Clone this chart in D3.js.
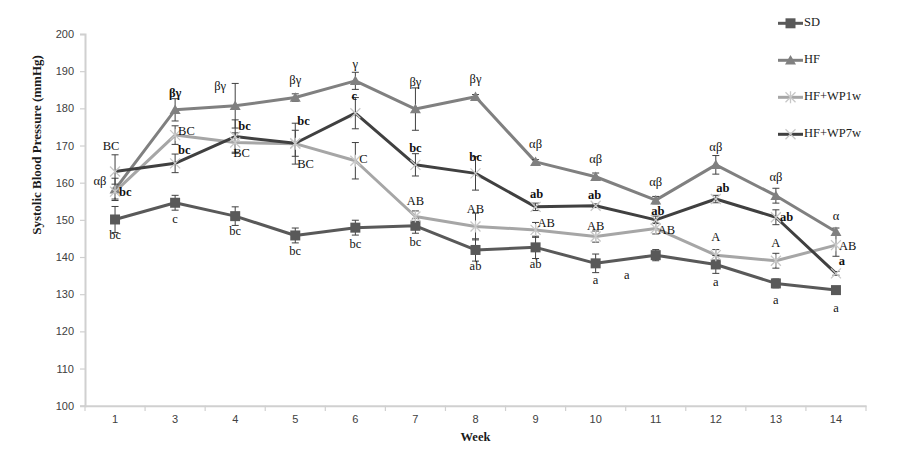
<!DOCTYPE html>
<html><head><meta charset="utf-8">
<script src="https://cdn.jsdelivr.net/npm/d3@7"></script>
<style>body{margin:0;background:#fff}svg{display:block}</style>
</head><body>
<svg id="c" width="914" height="465"></svg>
<script>
const weeks = ["1","3","4","5","6","7","8","9","10","11","12","13","14"];
const yTicks = [100,110,120,130,140,150,160,170,180,190,200];

const sdVals   = [150.1,154.6,151.0,145.8,147.9,148.4,141.9,142.6,138.3,140.5,138.0,132.9,131.1];
const sdErr    = [3.5,2.0,2.5,2.0,2.0,2.0,3.0,3.0,2.5,1.5,2.4,1.2,0.5];
const hfVals   = [158.2,179.6,180.7,182.9,187.4,179.8,183.1,165.6,161.6,155.3,164.8,156.5,146.8];
const hfErr    = [3.0,3.0,6.0,1.0,2.3,5.7,0.6,0.6,1.0,1.0,2.5,2.0,1.0];
const wp1Vals  = [157.6,172.8,170.8,170.5,165.9,150.9,148.2,147.3,145.5,147.7,140.5,139.0,143.2];
const wp1Err   = [2.0,2.5,2.6,5.5,4.9,1.5,3.6,2.0,1.5,1.5,1.5,2.0,3.0];
const wp7Vals  = [163.0,165.2,172.4,170.6,178.7,164.8,162.5,153.5,153.8,150.0,155.6,150.7,135.6];
const wp7Err   = [4.5,2.5,4.5,3.5,4.2,3.0,4.5,1.0,0.5,1.0,1.0,2.0,0.5];

const sdLabels  = ["bc","c","bc","bc","bc","bc","ab","ab","a","a","a","a","a"];
const hfLabels  = ["αβ","βγ","βγ","βγ","γ","βγ","βγ","αβ","αβ","αβ","αβ","αβ","α"];
const wp1Labels = ["BC","BC","BC","BC","C","AB","AB","AB","AB","AB","A","A","AB"];
const wp7Labels = ["bc","bc","bc","bc","c","bc","bc","ab","ab","ab","ab","ab","a"];

// annotation placement [anchor, dx, dy] relative to the point
const sdLabelAt  = [["m",0,17],["m",0,17],["m",0,16],["m",0,17],["m",0,17],["m",0,17],["m",0,17],["m",0,18],["m",0,18],["m",-29,21],["m",0,19],["m",0,18],["m",0,19]];
const hfLabelAt  = [["m",-15,-7],["m",0,-16],["m",-15,-19],["m",0,-16],["m",0,-16],["m",0,-26],["m",0,-17],["m",0,-17],["m",0,-17],["m",0,-17],["m",0,-17],["m",0,-18],["m",0,-15]];
const wp1LabelAt = [["m",-4,-44],["s",3,-3],["s",-2,12],["s",2,21],["s",4,-1],["m",0,-14],["m",0,-16],["s",2,-6],["m",0,-9],["s",2,3],["m",0,-17],["m",0,-17],["s",3,2]];
const wp7LabelAt = [["s",4,22],["s",3,-12],["s",3,-9],["s",2,-21],["m",-1,-16],["m",0,-16],["m",0,-15],["m",1,-12],["m",-1,-10],["m",2,-8],["m",7,-10],["s",4,1],["m",6,-11]];
const hfBold  = [false,true,false,false,false,false,false,false,false,false,false,false,false];

const seriesNames = ["SD","HF","HF+WP1w","HF+WP7w"];

const series = [
  {name:seriesNames[0], vals:sdVals,  err:sdErr,  labels:sdLabels,  at:sdLabelAt,  color:"#595959", marker:"square", bold:()=>false},
  {name:seriesNames[1], vals:hfVals,  err:hfErr,  labels:hfLabels,  at:hfLabelAt,  color:"#808080", marker:"triangle", bold:i=>hfBold[i]},
  {name:seriesNames[2], vals:wp1Vals, err:wp1Err, labels:wp1Labels, at:wp1LabelAt, color:"#a6a6a6", marker:"asterisk", bold:()=>false},
  {name:seriesNames[3], vals:wp7Vals, err:wp7Err, labels:wp7Labels, at:wp7LabelAt, color:"#404040", marker:"times", bold:()=>true}
];

const svg = d3.select("#c");
const x = d3.scaleBand().domain(weeks).range([85,866]).padding(0);
const y = d3.scaleLinear().domain([100,200]).range([405.7,34]);
const cx = w => x(w) + x.bandwidth()/2;

// axes
const axisColor = "#d0d0d0";
const gy = svg.append("g").attr("transform","translate(85,0)")
  .call(d3.axisLeft(y).tickValues(yTicks).tickSize(5).tickPadding(6));
gy.select(".domain").attr("stroke",axisColor).attr("stroke-width",2);
gy.selectAll(".tick line").attr("stroke",axisColor).attr("stroke-width",1.2);
gy.selectAll(".tick text").attr("font-family","Liberation Sans, Arial, sans-serif").attr("font-size",11).attr("fill","#404040");

const gx = svg.append("g").attr("transform","translate(0,405.7)")
  .call(d3.axisBottom(x).tickSize(0).tickPadding(10));
gx.select(".domain").attr("stroke",axisColor).attr("stroke-width",2);
gx.selectAll(".tick text").attr("font-family","Liberation Sans, Arial, sans-serif").attr("font-size",11).attr("fill","#404040");
// boundary ticks between categories
const bounds = weeks.map(w => x(w)).concat([x.range()[1]]);
svg.append("g").selectAll("line").data(bounds).join("line")
  .attr("x1",d=>d).attr("x2",d=>d).attr("y1",405.7).attr("y2",411)
  .attr("stroke",axisColor).attr("stroke-width",1.2);

// axis titles
svg.append("text").attr("transform","translate(38,145) rotate(-90)")
  .attr("text-anchor","middle").attr("dominant-baseline","middle")
  .attr("font-family","Liberation Serif, Times New Roman, serif").attr("font-weight","bold").attr("font-size",13)
  .attr("fill","#1a1a1a").text("Systolic Blood Pressure (mmHg)");
svg.append("text").attr("x",475.5).attr("y",438).attr("text-anchor","middle").attr("dominant-baseline","middle")
  .attr("font-family","Liberation Serif, Times New Roman, serif").attr("font-weight","bold").attr("font-size",12.5)
  .attr("fill","#1a1a1a").text("Week");

function markerPath(type, s){
  const h = s/2;
  if(type==="square") return `M${-h},${-h}H${h}V${h}H${-h}Z`;
  if(type==="triangle") return `M0,${-h*1.05}L${h*1.1},${h*0.85}L${-h*1.1},${h*0.85}Z`;
  if(type==="asterisk") return `M${-h},${-h}L${h},${h}M${-h},${h}L${h},${-h}M0,${-h*1.2}V${h*1.2}`;
  return `M${-h},${-h}L${h},${h}M${-h},${h}L${h},${-h}`;
}
function drawMarker(g, type, color){
  if(type==="square"||type==="triangle"){
    g.append("path").attr("d",markerPath(type,10)).attr("fill",color);
  } else {
    g.append("path").attr("d",markerPath(type,10)).attr("fill","none").attr("stroke","#c8c8c8").attr("stroke-width",1.3);
  }
}

const line = d3.line().x((d,i)=>cx(weeks[i])).y(d=>y(d));

series.forEach(s=>{
  svg.append("path").datum(s.vals).attr("d",line).attr("fill","none")
    .attr("stroke",s.color).attr("stroke-width",3).attr("stroke-linejoin","round");
});
// error bars
series.forEach(s=>{
  const g = svg.append("g");
  s.vals.forEach((v,i)=>{
    const px = cx(weeks[i]), t = y(v+s.err[i]), b = y(v-s.err[i]);
    g.append("line").attr("x1",px).attr("x2",px).attr("y1",t).attr("y2",b).attr("stroke","#404040").attr("stroke-width",1);
    [t,b].forEach(yy=>g.append("line").attr("x1",px-3.5).attr("x2",px+3.5).attr("y1",yy).attr("y2",yy).attr("stroke","#404040").attr("stroke-width",1));
  });
});
// markers
series.forEach(s=>{
  s.vals.forEach((v,i)=>{
    const g = svg.append("g").attr("transform",`translate(${cx(weeks[i])},${y(v)})`);
    drawMarker(g, s.marker, s.color);
  });
});
// significance labels
series.forEach(s=>{
  s.vals.forEach((v,i)=>{
    const [a,dx,dy] = s.at[i];
    svg.append("text").attr("x",cx(weeks[i])+dx).attr("y",y(v)+dy)
      .attr("text-anchor",a==="m"?"middle":"start").attr("dominant-baseline","middle")
      .attr("font-family","Liberation Serif, Times New Roman, serif").attr("font-size",12.5)
      .attr("font-weight",s.bold(i)?"bold":"normal").attr("fill","#111")
      .text(s.labels[i]);
  });
});

// legend
const leg = svg.append("g");
series.forEach((s,i)=>{
  const ly = 23.3 + i*37;
  leg.append("line").attr("x1",778).attr("x2",803).attr("y1",ly).attr("y2",ly).attr("stroke",s.color).attr("stroke-width",3);
  const g = leg.append("g").attr("transform",`translate(790.5,${ly})`);
  drawMarker(g, s.marker, s.color);
  leg.append("text").attr("x",804).attr("y",ly).attr("dominant-baseline","middle")
    .attr("font-family","Liberation Serif, Times New Roman, serif").attr("font-size",12.5).attr("fill","#222").text(s.name);
});
</script>
</body></html>
